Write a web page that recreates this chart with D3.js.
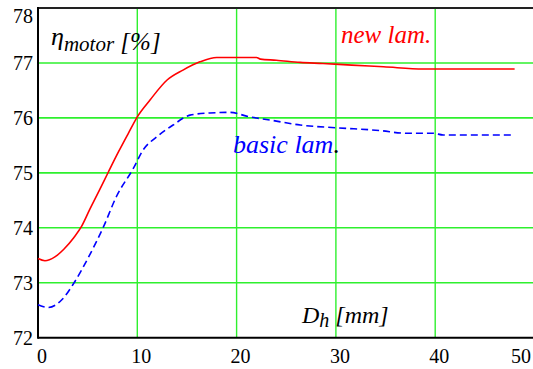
<!DOCTYPE html>
<html>
<head>
<meta charset="utf-8">
<script src="https://cdn.jsdelivr.net/npm/d3@7"></script>
<style>
html,body{margin:0;padding:0;background:#fff;}
svg{display:block;}
</style>
</head>
<body>
<svg id="c" width="533" height="369"></svg>
<script>
const xTicks = [0,10,20,30,40,50];
const yTicks = [72,73,74,75,76,77,78];

const newLamX = [0,0.7,1.7,2.6,3.6,4.4,5.2,6.2,7.1,8.1,9.1,10,11.3,13,14.6,16.3,18,20,22,22.4,24,26.4,28.7,31.6,34.8,38.8,48];
const newLamY = [73.44,73.40,73.47,73.61,73.82,74.03,74.33,74.69,75.02,75.38,75.72,76.02,76.33,76.69,76.87,77.02,77.10,77.10,77.10,77.07,77.05,77.01,76.99,76.96,76.93,76.89,76.89];

const basicLamX = [0,1,2.4,3.6,5.1,6.6,7.9,9.6,10.6,12,13.6,15.3,17.3,19.3,21.3,23.4,26.4,30.1,34.4,37.1,39.8,40.8,48];
const basicLamY = [72.60,72.55,72.69,72.99,73.47,74.02,74.57,75.08,75.42,75.66,75.87,76.05,76.09,76.10,76.02,75.96,75.87,75.82,75.77,75.72,75.72,75.69,75.69];

const FONT = "'Liberation Serif', 'Times New Roman', Times, 'DejaVu Serif', serif";
const svg = d3.select("#c");
const x = d3.scaleLinear().domain([0,50]).range([38,534.5]);
const y = d3.scaleLinear().domain([72,78]).range([337.7,8]);

const grid = "#2ef02e";
svg.append("g").selectAll("line").data(yTicks.filter(v=>v>72 && v<78)).join("line")
  .attr("x1", x(0)).attr("x2", 533).attr("y1", d=>y(d)).attr("y2", d=>y(d))
  .attr("stroke", grid).attr("stroke-width", 1.6);
svg.append("g").selectAll("line").data(xTicks.filter(v=>v>0 && v<50)).join("line")
  .attr("y1", y(72)).attr("y2", y(78)).attr("x1", d=>x(d)).attr("x2", d=>x(d))
  .attr("stroke", grid).attr("stroke-width", 1.4);

// frame
svg.append("line").attr("x1", x(0)).attr("x2", 533).attr("y1", y(78)).attr("y2", y(78)).attr("stroke","#222").attr("stroke-width",2);
svg.append("line").attr("x1", x(0)).attr("x2", 533).attr("y1", y(72)).attr("y2", y(72)).attr("stroke","#000").attr("stroke-width",2);
svg.append("line").attr("x1", x(0)).attr("x2", x(0)).attr("y1", y(72)+1).attr("y2", y(78)-1).attr("stroke","#000").attr("stroke-width",2);

// tick labels
svg.append("g").selectAll("text").data(yTicks).join("text")
  .attr("x", 33).attr("y", d=>Math.max(y(d)+7, 23))
  .attr("text-anchor","end").attr("font-family",FONT).attr("font-size",20).attr("fill","#000").text(d=>d);
svg.append("g").selectAll("text").data(xTicks).join("text")
  .attr("x", d=>Math.min(x(d)+4, 521)).attr("y", 363)
  .attr("text-anchor","middle").attr("font-family",FONT).attr("font-size",20).attr("fill","#000").text(d=>d);

// lines
const line = d3.line().x(d=>x(d[0])).y(d=>y(d[1])).curve(d3.curveMonotoneX);
svg.append("path").datum(d3.zip(newLamX,newLamY)).attr("d", line)
  .attr("fill","none").attr("stroke","#ff0000").attr("stroke-width",1.6);
svg.append("path").datum(d3.zip(basicLamX,basicLamY)).attr("d", line)
  .attr("fill","none").attr("stroke","#0000ff").attr("stroke-width",1.6).attr("stroke-dasharray","7,4");

// labels
const yl = svg.append("text").attr("x",51).attr("y",45).attr("font-family",FONT).attr("font-style","italic").attr("fill","#000");
yl.append("tspan").attr("font-size",26).text("η");
yl.append("tspan").attr("font-size",21).attr("dy",6).text("motor");
yl.append("tspan").attr("font-size",25).attr("dy",-1).text(" [%]");

svg.append("text").attr("x",341).attr("y",43).attr("font-family",FONT).attr("font-style","italic").attr("font-size",25).attr("fill","#ff0000").text("new lam.");
const bl = svg.append("text").attr("x",233).attr("y",153).attr("font-family",FONT).attr("font-style","italic").attr("font-size",26).attr("fill","#0000ff");
bl.append("tspan").text("basic lam");
bl.append("tspan").attr("fill","#000").text(".");

const xl = svg.append("text").attr("x",302).attr("y",323).attr("font-family",FONT).attr("font-style","italic").attr("fill","#000");
xl.append("tspan").attr("font-size",24).text("D");
xl.append("tspan").attr("font-size",20).attr("dy",4).text("h");
xl.append("tspan").attr("font-size",24).attr("dy",-4).text(" [mm]");
</script>
</body>
</html>
